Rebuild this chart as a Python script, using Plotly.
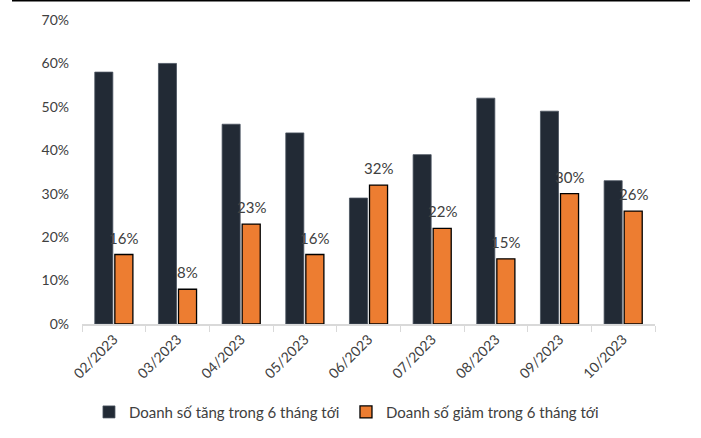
import plotly.graph_objects as go

months = ["02/2023", "03/2023", "04/2023", "05/2023", "06/2023", "07/2023", "08/2023", "09/2023", "10/2023"]
tang = [0.58, 0.60, 0.46, 0.44, 0.29, 0.39, 0.52, 0.49, 0.33]
giam = [0.16, 0.08, 0.23, 0.16, 0.32, 0.22, 0.15, 0.30, 0.26]
name_tang = "Doanh số tăng trong 6 tháng tới"
name_giam = "Doanh số giảm trong 6 tháng tới"

FONT = "Lato, 'Open Sans', sans-serif"
TXT = "#404040"

fig = go.Figure()
fig.add_trace(go.Bar(
    x=months, y=tang, name=name_tang,
    marker=dict(color="#222A35", line=dict(color="#4a5360", width=0.8)),
))
fig.add_trace(go.Bar(
    x=months, y=giam, name=name_giam,
    marker=dict(color="#ED7D31", line=dict(color="#000000", width=1.3)),
))

for m, v in zip(months, giam):
    fig.add_annotation(x=m, y=v, text=f"{round(v*100)}%", showarrow=False,
                       xanchor="center", yanchor="bottom", xshift=10, yshift=6,
                       font=dict(size=15, color=TXT, family=FONT))

fig.update_layout(
    width=701, height=438,
    margin=dict(l=82, r=46, t=20, b=114, autoexpand=False),
    paper_bgcolor="white", plot_bgcolor="white",
    barmode="group", bargap=0.37, bargroupgap=0.1,
    font=dict(family=FONT, size=14, color=TXT),
    showlegend=True,
    legend=dict(orientation="h", x=0.4607, xanchor="center", y=-0.29, yanchor="middle",
                font=dict(size=15, color=TXT, family=FONT), traceorder="normal",
                itemwidth=30, entrywidth=212),
    xaxis=dict(
        tickangle=-45, showline=True, linecolor="#D9D9D9", linewidth=1.5,
        ticks="outside", tickcolor="#D9D9D9", ticklen=6, tickson="boundaries",
        showgrid=False, tickfont=dict(size=14, color=TXT), automargin=False,
    ),
    yaxis=dict(
        range=[0, 0.7], dtick=0.1, tickformat=".0%", showgrid=False, zeroline=False,
        showline=False, ticklabelstandoff=12, tickfont=dict(size=14, color=TXT),
        automargin=False,
    ),
    shapes=[dict(type="line", xref="paper", yref="paper",
                 x0=(12 - 82) / 573, x1=(690 - 82) / 573,
                 y0=(324 - 0.8) / 304, y1=(324 - 0.8) / 304,
                 line=dict(color="black", width=1.6))],
)

fig.write_html("out.html")
